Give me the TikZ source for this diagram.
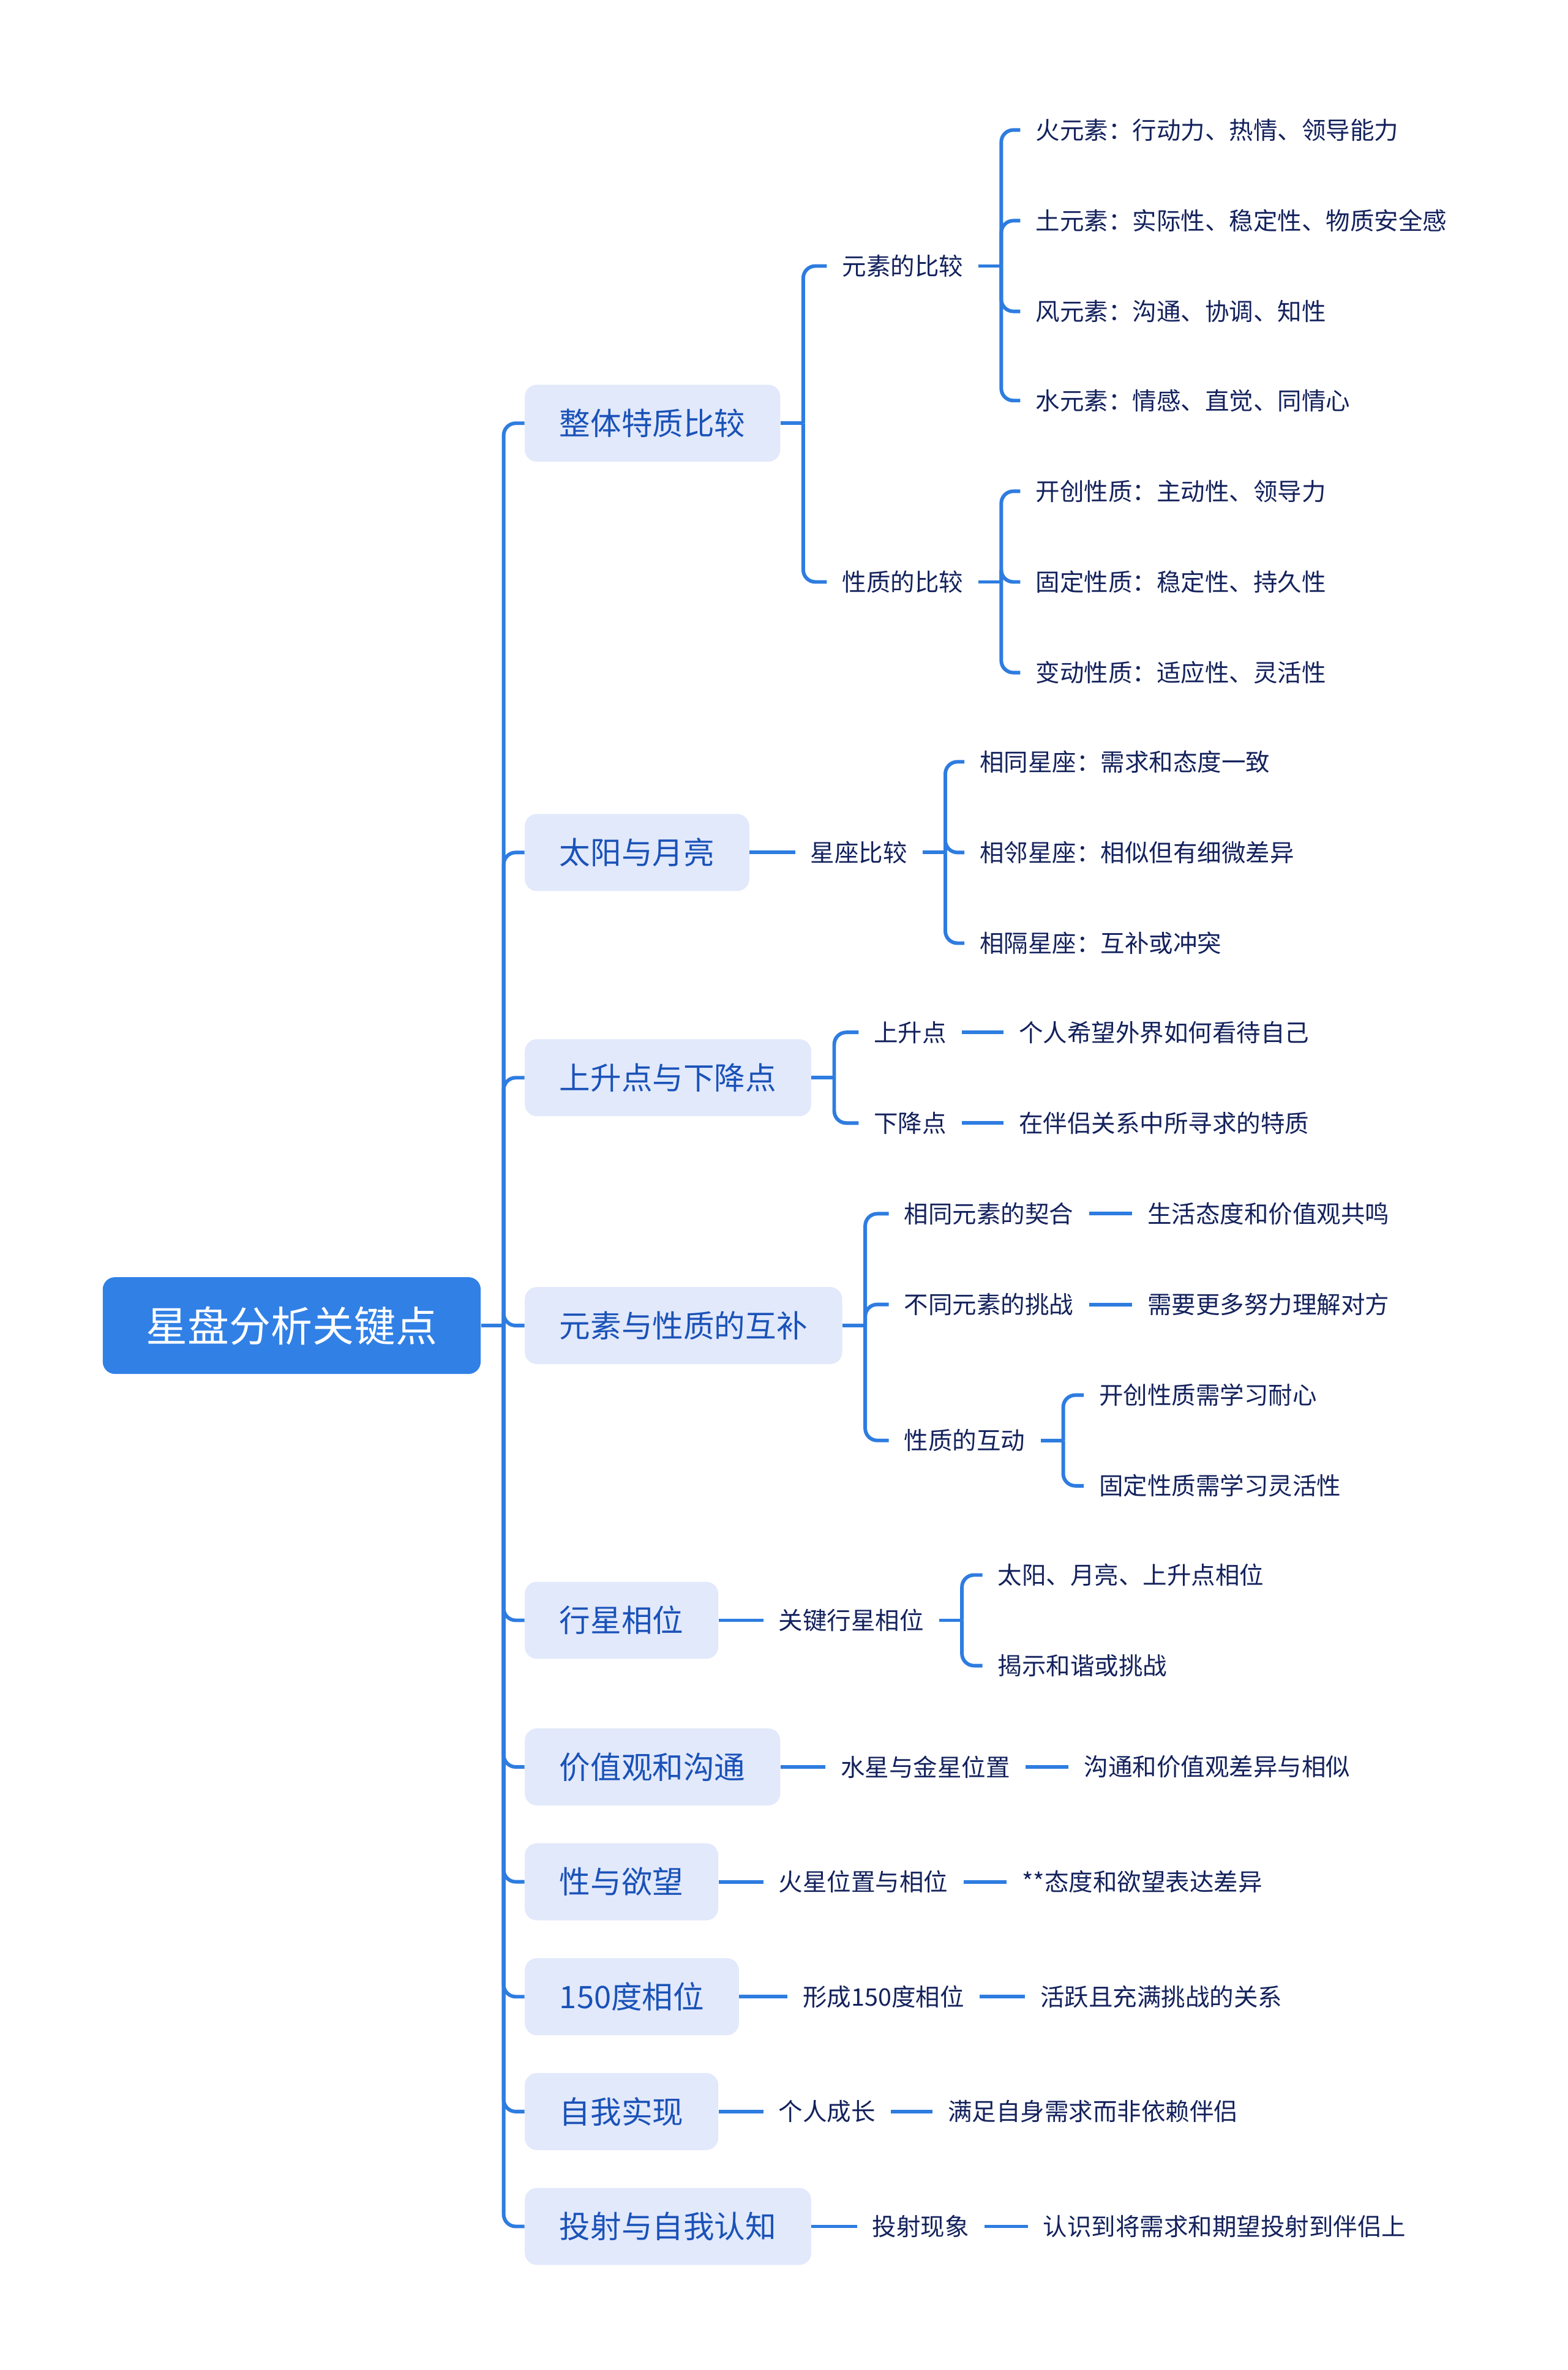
\documentclass[tikz,border=0pt]{standalone}
\usepackage{fontspec}
\newfontfamily\cjk{Noto Sans CJK SC}
\definecolor{rootblue}{HTML}{3180E6}
\definecolor{topicfill}{HTML}{E2E9FB}
\definecolor{topictext}{HTML}{1A52B8}
\definecolor{leaftext}{HTML}{14225C}
\definecolor{linkblue}{HTML}{2E7CE0}

\begin{document}
\begin{tikzpicture}[x=1pt,y=-1pt,
  root/.style={rectangle,fill=rootblue,rounded corners=8pt,minimum width=250pt,minimum height=64pt,
               text=white,font=\cjk\fontsize{27.5}{30}\selectfont},
  topic/.style={rectangle,fill=topicfill,rounded corners=8pt,anchor=west,minimum height=51pt,inner xsep=23pt,
               text=topictext,font=\cjk\fontsize{20.5}{24}\selectfont},
  leaf/.style={anchor=west,inner xsep=10pt,inner ysep=2pt,text=leaftext,font=\cjk\fontsize{16}{19}\selectfont},
  link/.style={draw=linkblue,line width=2.4pt,rounded corners=8pt}]

\useasboundingbox (0,0) rectangle (1037,1568);

% root and main topics
\node[root] (root) at (193,877) {星盘分析关键点};
\node[topic] (t1) at (347,280) {整体特质比较};
\node[topic] (t2) at (347,564) {太阳与月亮};
\node[topic] (t3) at (347,713) {上升点与下降点};
\node[topic] (t4) at (347,877) {元素与性质的互补};
\node[topic] (t5) at (347,1072) {行星相位};
\node[topic] (t6) at (347,1169) {价值观和沟通};
\node[topic] (t7) at (347,1245) {性与欲望};
\node[topic] (t8) at (347,1321) {150度相位};
\node[topic] (t9) at (347,1397) {自我实现};
\node[topic] (t10) at (347,1473) {投射与自我认知};

% 整体特质比较
\node[leaf] (elem) at (547,176) {元素的比较};
\node[leaf] (qual) at (547,385) {性质的比较};
\node[leaf] (fire) at (675,86) {火元素：行动力、热情、领导能力};
\node[leaf] (earth) at (675,146) {土元素：实际性、稳定性、物质安全感};
\node[leaf] (air) at (675,206) {风元素：沟通、协调、知性};
\node[leaf] (water) at (675,265) {水元素：情感、直觉、同情心};
\node[leaf] (card) at (675,325) {开创性质：主动性、领导力};
\node[leaf] (fixed) at (675,385) {固定性质：稳定性、持久性};
\node[leaf] (mut) at (675,445) {变动性质：适应性、灵活性};

% 太阳与月亮
\node[leaf] (sign) at (526,564) {星座比较};
\node[leaf] (same) at (638,504) {相同星座：需求和态度一致};
\node[leaf] (adj) at (638,564) {相邻星座：相似但有细微差异};
\node[leaf] (opp) at (638,624) {相隔星座：互补或冲突};

% 上升点与下降点
\node[leaf] (asc) at (568,683) {上升点};
\node[leaf] (desc) at (568,743) {下降点};
\node[leaf] (ascx) at (664,683) {个人希望外界如何看待自己};
\node[leaf] (descx) at (664,743) {在伴侣关系中所寻求的特质};

% 元素与性质的互补
\node[leaf] (fit) at (588,803) {相同元素的契合};
\node[leaf] (chal) at (588,863) {不同元素的挑战};
\node[leaf] (inter) at (588,953) {性质的互动};
\node[leaf] (fitx) at (749,803) {生活态度和价值观共鸣};
\node[leaf] (chalx) at (749,863) {需要更多努力理解对方};
\node[leaf] (pat) at (717,923) {开创性质需学习耐心};
\node[leaf] (flex) at (717,983) {固定性质需学习灵活性};

% 行星相位
\node[leaf] (key) at (505,1072) {关键行星相位};
\node[leaf] (sma) at (650,1042) {太阳、月亮、上升点相位};
\node[leaf] (har) at (650,1102) {揭示和谐或挑战};

% single chains
\node[leaf] (merc) at (546,1169) {水星与金星位置};
\node[leaf] (mercx) at (707,1169) {沟通和价值观差异与相似};
\node[leaf] (mars) at (505,1245) {火星位置与相位};
\node[leaf] (marsx) at (666,1245) {**态度和欲望表达差异};
\node[leaf] (q150) at (521,1321) {形成150度相位};
\node[leaf] (q150x) at (678,1321) {活跃且充满挑战的关系};
\node[leaf] (grow) at (505,1397) {个人成长};
\node[leaf] (growx) at (617,1397) {满足自身需求而非依赖伴侣};
\node[leaf] (proj) at (567,1473) {投射现象};
\node[leaf] (projx) at (680,1473) {认识到将需求和期望投射到伴侣上};

% brackets
\draw[link] (root.east) -- ++(15,0);
\foreach \c in {t1,t2,t3,t4,t5,t6,t7,t8,t9,t10}
  \draw[link] (root.east) ++(15,0) |- (\c.west);

\draw[link] (t1.east) -- ++(15,0);
\foreach \c in {elem,qual}
  \draw[link] (t1.east) ++(15,0) |- (\c.west);
\draw[link] (elem.east) -- ++(15,0);
\foreach \c in {fire,earth,air,water}
  \draw[link] (elem.east) ++(15,0) |- (\c.west);
\draw[link] (qual.east) -- ++(15,0);
\foreach \c in {card,fixed,mut}
  \draw[link] (qual.east) ++(15,0) |- (\c.west);

\draw[link] (t2.east) -- (sign.west);
\draw[link] (sign.east) -- ++(15,0);
\foreach \c in {same,adj,opp}
  \draw[link] (sign.east) ++(15,0) |- (\c.west);

\draw[link] (t3.east) -- ++(15,0);
\foreach \c in {asc,desc}
  \draw[link] (t3.east) ++(15,0) |- (\c.west);
\draw[link] (asc.east) -- (ascx.west);
\draw[link] (desc.east) -- (descx.west);

\draw[link] (t4.east) -- ++(15,0);
\foreach \c in {fit,chal,inter}
  \draw[link] (t4.east) ++(15,0) |- (\c.west);
\draw[link] (fit.east) -- (fitx.west);
\draw[link] (chal.east) -- (chalx.west);
\draw[link] (inter.east) -- ++(15,0);
\foreach \c in {pat,flex}
  \draw[link] (inter.east) ++(15,0) |- (\c.west);

\draw[link] (t5.east) -- (key.west);
\draw[link] (key.east) -- ++(15,0);
\foreach \c in {sma,har}
  \draw[link] (key.east) ++(15,0) |- (\c.west);

\draw[link] (t6.east) -- (merc.west) (merc.east) -- (mercx.west);
\draw[link] (t7.east) -- (mars.west) (mars.east) -- (marsx.west);
\draw[link] (t8.east) -- (q150.west) (q150.east) -- (q150x.west);
\draw[link] (t9.east) -- (grow.west) (grow.east) -- (growx.west);
\draw[link] (t10.east) -- (proj.west) (proj.east) -- (projx.west);
\end{tikzpicture}
\end{document}
